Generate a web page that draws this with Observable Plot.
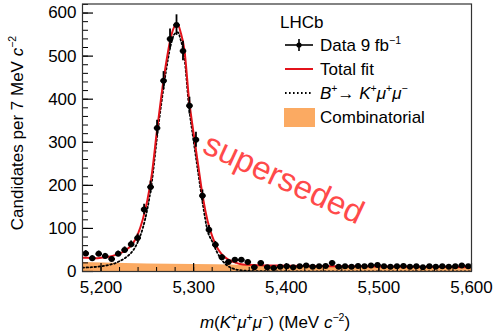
<!DOCTYPE html>
<html><head><meta charset="utf-8">
<script src="https://cdn.jsdelivr.net/npm/d3@7"></script>
<script src="https://cdn.jsdelivr.net/npm/@observablehq/plot@0.6"></script>
<style>
body{margin:0;background:#fff;}
#wrap{position:relative;width:500px;height:336px;overflow:hidden;font-family:"Liberation Sans",Arial,Helvetica,sans-serif;color:#000;}
#wrap svg{display:block;}
.t{position:absolute;white-space:nowrap;line-height:1;font-size:17px;}
.t sup{font-size:0.62em;vertical-align:0.6em;line-height:0;}
.vc{transform:translateY(-50%);}
</style></head><body><div id="wrap"></div>
<script>
// Data: bin centres (MeV/c^2) and candidate counts per 7 MeV bin
const binCenters = [5183.5,5190.5,5197.5,5204.5,5211.5,5218.5,5225.5,5232.5,5239.5,5246.5,
  5253.5,5260.5,5267.5,5274.5,5281.5,5288.5,5295.5,5302.5,5309.5,5316.5,
  5323.5,5330.5,5337.5,5344.5,5351.5,5358.5,5365.5,5372.5,5379.5,5386.5,
  5393.5,5400.5,5407.5,5414.5,5421.5,5428.5,5435.5,5442.5,5449.5,5456.5,
  5463.5,5470.5,5477.5,5484.5,5491.5,5498.5,5505.5,5512.5,5519.5,5526.5,
  5533.5,5540.5,5547.5,5554.5,5561.5,5568.5,5575.5,5582.5,5589.5,5596.5];
const counts = [42,31,41,36,29,41,50,63,78,144,
  196,333,443,540,572,512,385,306,176,97,
  62,33,22,27,27,22,10,20,10,8,
  11,12,10,12,14,11,12,13,20,11,
  12,11,13,12,14,15,12,11,12,13,
  11,12,10,12,11,12,11,12,14,12];
const binWidth = 7;

// Total fit curve
const fitMass  = [5180,5185,5190,5195,5200,5205,5210,5215,5220,5225,5230,5235,5240,5245,5250,5255,5260,5265,5270,5275,5280,5283,5286,5290,5295,5300,5305,5310,5315,5320,5325,5330,5335,5340,5345,5350,5360,5370,5380,5400,5450,5500,5550,5600];
const fitTotal = [32,32,31,31,32,33,35,38,42,47,55,67,88,120,165,228,320,405,480,540,570,572,555,515,400,320,245,172,118,82,57,41,31,25,21,17.5,15.5,14.5,14,13.5,12.4,11.5,10.6,9.8];

// B+ -> K+ mu+ mu- signal component
const sigMass   = [5180,5190,5200,5210,5215,5220,5225,5230,5235,5240,5245,5250,5255,5260,5265,5270,5275,5280,5283,5286,5290,5295,5300,5305,5310,5315,5320,5325,5330,5335,5340,5345,5350,5360,5370,5380,5400,5450,5600];
const sigValues = [9,10,12,16,19,24,30,38,50,70,100,145,210,303,388,463,523,553,555,538,497,382,303,228,155,95,70,46,28,16,9,5,3,1.5,0.8,0.5,0.3,0.1,0];

// Combinatorial background
const combMass   = [5180,5250,5300,5350,5400,5450,5500,5550,5600];
const combValues = [21,17.5,16,14.5,13.3,12.3,11.4,10.5,9.7];

const xMajorTicks = [5200,5300,5400,5500,5600];
const yMajorTicks = [0,100,200,300,400,500,600];
const xMinorTicks = d3.range(5180, 5601, 20);
const yMinorTicks = d3.range(0, 621, 20);

const data = binCenters.map((m,i)=>({m, v: counts[i]}));
const total = fitMass.map((m,i)=>({m, v: fitTotal[i]}));
const sig = sigMass.map((m,i)=>({m, v: sigValues[i]}));
const comb = combMass.map((m,i)=>({m, v: combValues[i]}));

const RED = "#e3131b", ORANGE = "#fbaa62";

const chart = Plot.plot({
  width: 500, height: 336,
  marginLeft: 82, marginRight: 29, marginTop: 3.5, marginBottom: 65,
  style: {fontFamily: '"Liberation Sans", Arial, Helvetica, sans-serif', fontSize: "17px", color: "#000", background: "#fff"},
  x: {domain: [5180, 5600], label: null},
  y: {domain: [0, 621], label: null},
  marks: [
    Plot.areaY(comb, {x: "m", y: "v", fill: ORANGE, curve: "monotone-x"}),
    Plot.line(sig, {x: "m", y: "v", stroke: "#000", strokeWidth: 1.8, strokeDasharray: "1.6,2.4", curve: "monotone-x", clip: true}),
    Plot.line(total, {x: "m", y: "v", stroke: RED, strokeWidth: 2, curve: "monotone-x", clip: true}),
    Plot.ruleX(data, {x: "m", y1: d => d.v - Math.sqrt(d.v), y2: d => d.v + Math.sqrt(d.v), stroke: "#000", strokeWidth: 1.8}),
    Plot.link(data, {x1: d => d.m - binWidth/2, x2: d => d.m + binWidth/2, y1: "v", y2: "v", stroke: "#000", strokeWidth: 2.2}),
    Plot.dot(data, {x: "m", y: "v", r: 3, fill: "#000"}),
    Plot.axisX({ticks: xMinorTicks, tickSize: -4, text: null, label: null, strokeWidth: 1}),
    Plot.axisX({ticks: xMajorTicks, tickSize: -8, text: null, label: null, strokeWidth: 1.2}),
    Plot.axisX({ticks: xMajorTicks, tickSize: 0, tickPadding: 9, label: null, fontSize: 17}),
    Plot.axisY({ticks: yMinorTicks, tickSize: -6, text: null, label: null, strokeWidth: 1}),
    Plot.axisY({ticks: yMajorTicks, tickSize: -11, text: null, label: null, strokeWidth: 1.2}),
    Plot.axisY({ticks: yMajorTicks, tickSize: 0, tickPadding: 6, label: null, fontSize: 17}),
    Plot.frame({stroke: "#333", strokeWidth: 1.2})
  ]
});

const wrap = document.getElementById("wrap");
wrap.appendChild(chart);

// Overlay: legend swatches
const ns = "http://www.w3.org/2000/svg";
const ov = document.createElementNS(ns, "svg");
ov.setAttribute("width", 500); ov.setAttribute("height", 336);
ov.style.position = "absolute"; ov.style.left = "0"; ov.style.top = "0";
ov.innerHTML = `
  <line x1="285" x2="313" y1="45" y2="45" stroke="#000" stroke-width="1.6"/>
  <line x1="299" x2="299" y1="39" y2="51" stroke="#000" stroke-width="1.6"/>
  <circle cx="299" cy="45" r="2.6" fill="#000"/>
  <line x1="285" x2="313" y1="69" y2="69" stroke="${RED}" stroke-width="2"/>
  <line x1="285" x2="313" y1="93" y2="93" stroke="#000" stroke-width="1.8" stroke-dasharray="1.6,2.4"/>
  <rect x="284" y="108" width="31" height="19" fill="${ORANGE}"/>
`;
wrap.appendChild(ov);

function addText(html, left, top, cls, extraStyle) {
  const d = document.createElement("div");
  d.className = "t " + (cls || "");
  d.innerHTML = html;
  d.style.left = left + "px"; d.style.top = top + "px";
  if (extraStyle) Object.assign(d.style, extraStyle);
  wrap.appendChild(d);
  return d;
}
addText("LHCb", 280, 22, "vc");
addText("Data 9 fb<sup>−1</sup>", 320, 45, "vc");
addText("Total fit", 320, 69, "vc");
addText("<i>B</i><sup>+</sup>→ <i>K</i><sup>+</sup><i>μ</i><sup>+</sup><i>μ</i><sup>−</sup>", 320, 93, "vc");
addText("Combinatorial", 320, 117, "vc");

// Axis titles
addText("Candidates per 7 MeV <i>c</i><sup>−2</sup>", 17, 133, "", {transform: "translate(-50%,-50%) rotate(-90deg)"});
addText("<i>m</i>(<i>K</i><sup>+</sup><i>μ</i><sup>+</sup><i>μ</i><sup>−</sup>) (MeV <i>c</i><sup>−2</sup>)", 275, 322, "", {transform: "translate(-50%,-50%)"});

// Watermark
addText("superseded", 284, 178, "", {transform: "translate(-50%,-50%) rotate(25deg)", fontSize: "33px", color: "#ff4a4a"});
</script>
</body></html>
